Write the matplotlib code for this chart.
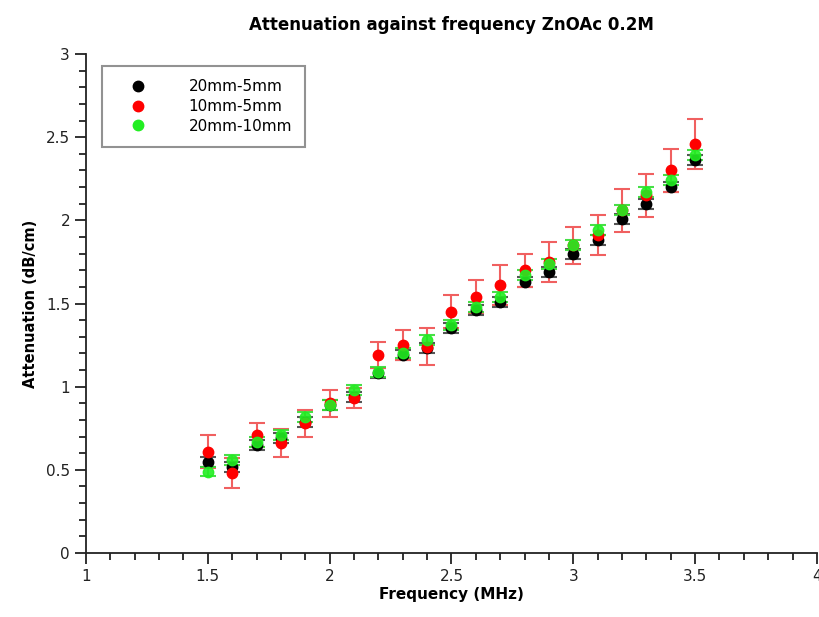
import matplotlib.pyplot as plt
from matplotlib.ticker import MultipleLocator
from matplotlib.lines import Line2D

# frequency (MHz)
freq = [1.5, 1.6, 1.7, 1.8, 1.9, 2.0, 2.1, 2.2, 2.3, 2.4, 2.5,
        2.6, 2.7, 2.8, 2.9, 3.0, 3.1, 3.2, 3.3, 3.4, 3.5]

# attenuation (dB/cm) for each sample pair
att_20_5 = [0.55, 0.52, 0.65, 0.69, 0.79, 0.89, 0.94, 1.08, 1.19, 1.23, 1.35,
            1.46, 1.51, 1.63, 1.69, 1.80, 1.88, 2.01, 2.10, 2.20, 2.36]
err_20_5 = [0.03] * 21

att_10_5 = [0.61, 0.48, 0.71, 0.66, 0.78, 0.90, 0.93, 1.19, 1.25, 1.24, 1.45,
            1.54, 1.61, 1.70, 1.75, 1.85, 1.91, 2.06, 2.15, 2.30, 2.46]
err_10_5 = [0.10, 0.09, 0.07, 0.085, 0.08, 0.08, 0.06, 0.08, 0.09, 0.11, 0.10,
            0.10, 0.12, 0.10, 0.12, 0.11, 0.12, 0.13, 0.13, 0.13, 0.15]

att_20_10 = [0.49, 0.56, 0.67, 0.71, 0.82, 0.89, 0.98, 1.09, 1.20, 1.28, 1.37,
             1.48, 1.54, 1.67, 1.74, 1.85, 1.94, 2.06, 2.17, 2.24, 2.39]
err_20_10 = [0.03] * 21

labels = ['20mm-5mm', '10mm-5mm', '20mm-10mm']
colors = ['black', '#ff0000', '#22ee22']

fig = plt.figure(figsize=(8.19, 6.17), dpi=100)
ax = fig.add_axes([0.105, 0.1037, 0.8925, 0.8088])

# black, then red, then green on top
ax.errorbar(freq, att_20_5, yerr=err_20_5, fmt='o', color=colors[0], ms=7.5,
            ecolor='#555555', elinewidth=1.2, capsize=6, capthick=1.5)
ax.errorbar(freq, att_10_5, yerr=err_10_5, fmt='o', color=colors[1], ms=7.5,
            ecolor='#f06060', elinewidth=1.5, capsize=6, capthick=1.5)
ax.errorbar(freq, att_20_10, yerr=err_20_10, fmt='o', color=colors[2], ms=7.5,
            ecolor='#33dd33', elinewidth=1.2, capsize=6, capthick=1.5,
            alpha=0.9)

ax.set_xlim(1, 4)
ax.set_ylim(0, 3)
ax.xaxis.set_major_locator(MultipleLocator(0.5))
ax.xaxis.set_minor_locator(MultipleLocator(0.1))
ax.yaxis.set_major_locator(MultipleLocator(0.5))
ax.yaxis.set_minor_locator(MultipleLocator(0.1))
ax.xaxis.set_major_formatter(plt.FuncFormatter(lambda v, p: '%g' % v))
ax.yaxis.set_major_formatter(plt.FuncFormatter(lambda v, p: '%g' % v))

for s in ['top', 'right']:
    ax.spines[s].set_visible(False)
for s in ['left', 'bottom']:
    ax.spines[s].set_linewidth(1.3)
    ax.spines[s].set_color('#222222')

ax.tick_params(which='major', direction='out', length=8, width=1.3,
               labelsize=11, colors='#222222')
ax.tick_params(which='minor', direction='out', length=5, width=1.3,
               colors='#222222')

ax.set_title('Attenuation against frequency ZnOAc 0.2M', fontsize=12,
             fontweight='bold', pad=17)
ax.set_xlabel('Frequency (MHz)', fontsize=11, fontweight='bold', labelpad=2)
ax.set_ylabel('Attenuation (dB/cm)', fontsize=10.5, fontweight='bold', labelpad=6)

# legend shows markers only
handles = [Line2D([], [], ls='none', marker='o', ms=7.5, color=c) for c in colors]
leg = ax.legend(handles, labels, loc='upper left', bbox_to_anchor=(0.022, 0.975),
                fontsize=11, frameon=True, fancybox=False, edgecolor='#777777',
                borderpad=0.85, labelspacing=0.3, handletextpad=1.8,
                handlelength=3.0, borderaxespad=0)
leg.get_frame().set_linewidth(1.5)

fig.savefig('out.png', dpi=100)
